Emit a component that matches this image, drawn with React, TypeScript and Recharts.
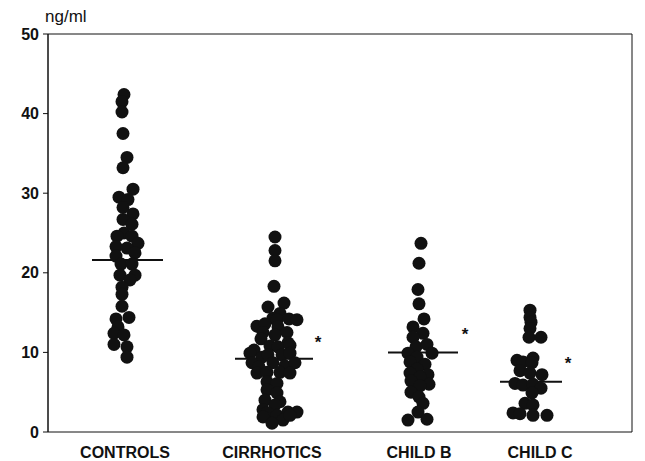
import React from 'react'
import {
  ScatterChart,
  Scatter,
  XAxis,
  YAxis,
  ReferenceLine,
  ReferenceArea,
  Label,
} from 'recharts'

// group labels and where they sit on the x scale (0..584)
const groups = ['CONTROLS', 'CIRRHOTICS', 'CHILD B', 'CHILD C']
const labelPos = [77, 224, 371, 492]
const centers = [76, 224, 371, 481]
const yTicks = [0, 10, 20, 30, 40, 50]

// ng/ml values, with horizontal jitter (same x units)
const controls = [42.4, 41.5, 40.2, 37.5, 34.5, 33.2, 30.5, 29.5, 29.2, 28.2, 27.4, 26.7, 26.1, 25.0, 24.6, 24.6, 23.7, 23.3, 23.1, 22.5, 22.1, 21.1, 21.1, 19.7, 19.7, 19.1, 18.2, 17.3, 15.8, 14.4, 14.2, 13.2, 12.4, 12.2, 11.0, 10.7, 9.4]
const controlsJit = [0, -2, -2, -1, 3, -1, 9, -5, 4, -1, 9, -1, 8, 0, -7, 8, 14, -8, 3, 11, -8, -3, 8, -4, 11, 6, -2, -2, -2, 5, -8, -6, -10, 0, -10, 3, 3]

const cirrhotics = [24.5, 22.8, 21.5, 18.3, 16.2, 15.7, 14.9, 14.3, 13.3, 13.6, 14.1, 14.2, 14.1, 13.2, 12.5, 12.5, 11.7, 12.2, 11.2, 10.8, 10.7, 10.9, 10.3, 9.9, 9.4, 9.7, 9.7, 9.9, 8.7, 8.2, 8.7, 8.3, 8.7, 7.4, 7.5, 7.5, 7.4, 6.3, 6.1, 5.3, 4.9, 4.0, 3.8, 3.4, 2.8, 2.4, 2.1, 2.5, 2.5, 1.9, 1.5, 1.1, 2.1]
const cirrhoticsJit = [3, 3, 3, 2, 12, -4, 8, 1, -15, -7, 5, 17, 25, 6, 15, -9, -11, 3, 16, -2, 6, 18, -18, -22, -10, -4, 10, 18, -20, -13, 1, 13, 23, -15, -5, 8, 18, -5, 5, -5, 5, -7, 8, 3, -9, -5, 5, 16, 25, -9, 11, 0, 18]

const childB = [23.7, 21.2, 17.9, 16.1, 14.2, 13.2, 12.4, 11.9, 10.7, 11.0, 9.9, 9.9, 9.4, 8.8, 8.5, 7.9, 7.4, 7.2, 6.9, 6.4, 6.0, 5.8, 5.0, 4.4, 3.6, 2.5, 1.5, 1.6]
const childBJit = [2, 0, -1, 0, 5, -6, 4, -6, -3, 8, 13, -11, -2, -9, 6, -2, -9, 9, 1, -8, 10, 1, -8, 0, 4, -1, -11, 8]

const childC = [15.3, 14.4, 13.8, 13.0, 11.9, 11.9, 9.0, 8.8, 9.3, 8.7, 7.7, 7.4, 7.2, 6.1, 5.9, 6.0, 5.5, 4.9, 3.6, 3.4, 2.4, 2.3, 2.1, 2.1]
const childCJit = [1, 1, 2, 1, 0, 12, -12, -6, 4, 3, -9, 1, 13, -14, -6, 4, 12, 3, -4, 4, -16, -9, 4, 18]

// medians: [x1, x2, value]
const medians = [
  [44, 115, 21.6],
  [187, 265, 9.2],
  [340, 410, 10.0],
  [452, 514, 6.3],
]
// significance marks
const stars = [
  { x: 270, y: 11.3 },
  { x: 417, y: 12.3 },
  { x: 520, y: 8.7 },
]

const toPoints = (vals: number[], jit: number[], c: number) =>
  vals.map((v, i) => ({ x: c + jit[i], y: v }))

const series = [
  toPoints(controls, controlsJit, centers[0]),
  toPoints(cirrhotics, cirrhoticsJit, centers[1]),
  toPoints(childB, childBJit, centers[2]),
  toPoints(childC, childCJit, centers[3]),
]

const ink = '#111'
const font = '"Liberation Sans", Arial, sans-serif'

const Dot = (props: any) => <circle cx={props.cx} cy={props.cy} r={6.5} fill={ink} />

const Star = (props: any) => (
  <text x={props.cx} y={props.cy + 6} textAnchor="middle" fontSize={17} fontWeight="bold" fontFamily={font} fill={ink}>
    *
  </text>
)

const UnitLabel = (props: any) => {
  const vb = props.viewBox
  return (
    <text x={vb.x + vb.width - 3} y={vb.y - 12} fontSize={17} fontFamily={font} fill={ink}>
      ng/ml
    </text>
  )
}

export default function App() {
  return (
    <div style={{ position: 'absolute', left: 0, top: 0, background: '#fff' }}>
      <ScatterChart width={645} height={461} margin={{ top: 34, right: 13, bottom: 0, left: 0 }}>
        <XAxis
          type="number"
          dataKey="x"
          domain={[0, 584]}
          ticks={labelPos}
          interval={0}
          tickFormatter={(v: number) => groups[labelPos.indexOf(v)] ?? ''}
          tickLine={false}
          axisLine={false}
          height={29}
          tickMargin={9}
          tick={{ fontSize: 16, fontFamily: font, fill: ink, fontWeight: 'bold' }}
        />
        <YAxis
          type="number"
          dataKey="y"
          domain={[0, 50]}
          ticks={yTicks}
          width={48}
          tickSize={5}
          tickMargin={4}
          stroke={ink}
          tick={{ fontSize: 16, fontFamily: font, fill: ink, fontWeight: 'bold' }}
        >
          <Label content={UnitLabel} />
        </YAxis>
        <ReferenceArea x1={0} x2={584} y1={0} y2={50} fill="none" stroke={ink} strokeWidth={1} />
        {series.map((d, i) => (
          <Scatter key={groups[i]} data={d} shape={Dot} isAnimationActive={false} />
        ))}
        {medians.map((m, i) => (
          <ReferenceLine
            key={i}
            segment={[{ x: m[0], y: m[2] }, { x: m[1], y: m[2] }]}
            stroke={ink}
            strokeWidth={2}
          />
        ))}
        <Scatter data={stars} shape={Star} isAnimationActive={false} />
      </ScatterChart>
    </div>
  )
}
